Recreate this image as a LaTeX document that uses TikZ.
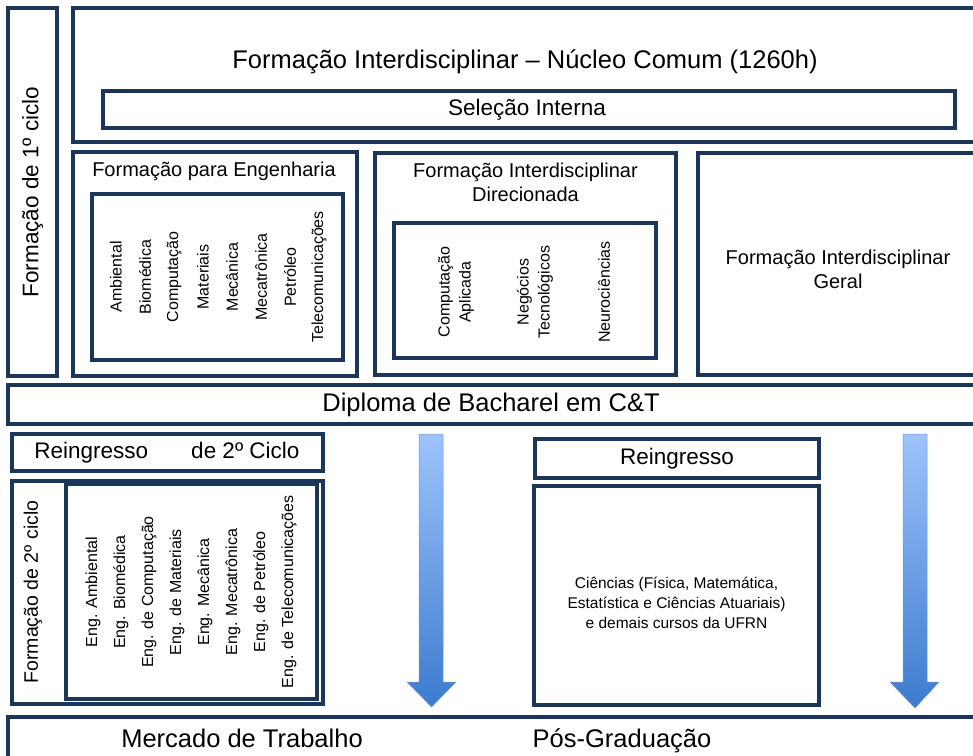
\documentclass[tikz,border=0pt]{standalone}
\usepackage{fontspec}
\setmainfont{Liberation Sans}
\definecolor{boxline}{HTML}{1C365A}
\definecolor{arrowtop}{HTML}{9DC3FC}
\definecolor{arrowbot}{HTML}{3C7BCE}
\definecolor{arrowedge}{HTML}{6B97D6}
\tikzset{
  box/.style={draw=boxline, line width=3.2pt, inner sep=0pt, outer sep=0pt, anchor=north west},
  bigtext/.style={font=\fontsize{25.5}{30}\selectfont},
  midtext/.style={font=\fontsize{22.5}{27}\selectfont},
  subtext/.style={font=\fontsize{20}{24}\selectfont, align=center},
  course/.style={font=\fontsize{16}{21}\selectfont, align=center, rotate=90},
  blockarrow/.style={top color=arrowtop, bottom color=arrowbot, draw=arrowedge, line width=0.5pt}
}
\begin{document}
\begin{tikzpicture}[x=1pt,y=-1pt]
\useasboundingbox (0,0) rectangle (973,755);
\clip (0,0) rectangle (973,755);
% primeiro ciclo
\node[box, minimum width=49pt, minimum height=368pt] (ciclo1) at (8,8) {};
\node[midtext, rotate=90] (ciclo1txt) at (ciclo1.center) {Formação de 1º ciclo};
\node[box, minimum width=912pt, minimum height=134pt] (nucleo) at (73,8) {};
\node[bigtext, anchor=base] (nucleotxt) at (525,68) {Formação Interdisciplinar – Núcleo Comum (1260h)};
\node[box, minimum width=852pt, minimum height=37pt] (selecao) at (103,91) {};
\node[midtext] (selecaotxt) at (527,109.5) {Seleção Interna};
% engenharias
\node[box, minimum width=284pt, minimum height=224pt] (eng) at (73,152) {};
\node[subtext, anchor=base] (engtxt) at (214,176) {Formação para Engenharia};
\node[box, minimum width=251pt, minimum height=166pt] (enginner) at (92,194) {};
\node[course] (amb) at (116,277) {Ambiental};
\node[course] (bio) at (145,277) {Biomédica};
\node[course] (comp) at (174,277) {Computação};
\node[course] (mat) at (203,277) {Materiais};
\node[course] (mec) at (232,277) {Mecânica};
\node[course] (mectr) at (261,277) {Mecatrônica};
\node[course] (pet) at (290,277) {Petróleo};
\node[course] (tel) at (319,277) {Telecomunicações};
% direcionada
\node[box, minimum width=301pt, minimum height=222pt] (direc) at (375,153) {};
\node[subtext] (directxt) at (525.5,182) {Formação Interdisciplinar\\Direcionada};
\node[box, minimum width=262pt, minimum height=135pt] (direcinner) at (394,223) {};
\node[course] (compapl) at (456,292) {Computação\\Aplicada};
\node[course] (negtec) at (535,292) {Negócios\\Tecnológicos};
\node[course] (neuro) at (604,292) {Neurociências};
% geral
\node[box, minimum width=300pt, minimum height=222pt] (geral) at (698,153) {};
\node[subtext] (geraltxt) at (838,269) {Formação Interdisciplinar\\Geral};
% diploma
\node[box, minimum width=990pt, minimum height=39pt] (diploma) at (8,385) {};
\node[bigtext] (diplomatxt) at (491,404.5) {Diploma de Bacharel em C\&T};
% segundo ciclo
\node[box, minimum width=311pt, minimum height=37pt] (reing2) at (12,434) {};
\node[midtext] (reing2txt) at (167,452.5) {Reingresso\hspace*{43pt}de 2º Ciclo};
\node[box, minimum width=311pt, minimum height=223pt] (ciclo2) at (12,481) {};
\node[box, minimum width=251pt, minimum height=215pt] (ciclo2inner) at (66,484) {};
\node[font=\fontsize{19.5}{23}\selectfont, rotate=90] (ciclo2txt) at (33,592) {Formação de 2º ciclo};
\node[course] (eamb) at (93,592) {Eng. Ambiental};
\node[course] (ebio) at (121,592) {Eng. Biomédica};
\node[course] (ecomp) at (149,592) {Eng. de Computação};
\node[course] (emat) at (177,592) {Eng. de Materiais};
\node[course] (emec) at (205,592) {Eng. Mecânica};
\node[course] (emectr) at (233,592) {Eng. Mecatrônica};
\node[course] (epet) at (261,592) {Eng. de Petróleo};
\node[course] (etel) at (289,592) {Eng. de Telecomunicações};
% reingresso
\node[box, minimum width=284pt, minimum height=39pt] (reing) at (535,439) {};
\node[midtext] (reingtxt) at (677,458.5) {Reingresso};
\node[box, minimum width=285pt, minimum height=219pt] (ciencias) at (534,486) {};
\node[font=\fontsize{15.5}{20}\selectfont, align=center] (cienciastxt) at (676.5,603) {Ciências (Física, Matemática,\\Estatística e Ciências Atuariais)\\e demais cursos da UFRN};
% saidas
\node[box, minimum width=990pt, minimum height=60pt] (saida) at (8,717) {};
\node[bigtext, anchor=base] (mercado) at (242,747) {Mercado de Trabalho};
\node[bigtext, anchor=base] (posgrad) at (622,747) {Pós-Graduação};
\shadedraw[blockarrow] (419,434) -- (443,434) -- (443,682) -- (456,682) -- (431.5,707) -- (407,682) -- (419,682) -- cycle;
\shadedraw[blockarrow] (903,434) -- (927,434) -- (927,682) -- (939,682) -- (915,708) -- (890,682) -- (903,682) -- cycle;
\end{tikzpicture}
\end{document}
